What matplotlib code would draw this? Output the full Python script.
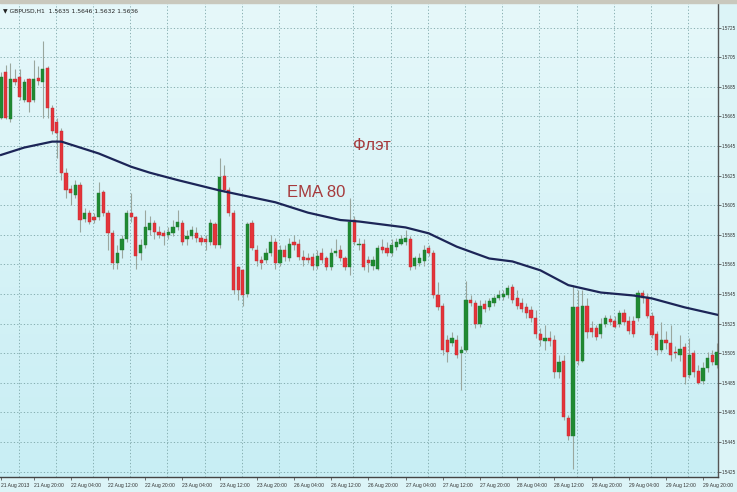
import numpy as np
import matplotlib.pyplot as plt
from matplotlib.colors import LinearSegmentedColormap

# GBPUSD H1 candles
opens = [
    1.5664, 1.5695, 1.5663, 1.5690, 1.5692, 1.5676, 1.5690, 1.5676, 1.5691, 1.5688,
    1.5698, 1.5671, 1.5661, 1.5655, 1.5627, 1.5616, 1.5612, 1.5619, 1.5596, 1.5600,
    1.5597, 1.5597, 1.5614, 1.5600, 1.5586, 1.5566, 1.5575, 1.5582, 1.5600, 1.5597,
    1.5573, 1.5578, 1.5588, 1.5593, 1.5587, 1.5586, 1.5585, 1.5586, 1.5590, 1.5593,
    1.5582, 1.5584, 1.5586, 1.5583, 1.5582, 1.5580, 1.5592, 1.5578, 1.5625, 1.5615,
    1.5600, 1.5563, 1.5561, 1.5545, 1.5593, 1.5575, 1.5568, 1.5568, 1.5573, 1.5580,
    1.5566, 1.5575, 1.5569, 1.5580, 1.5579, 1.5570, 1.5569, 1.5570, 1.5564, 1.5573,
    1.5569, 1.5563, 1.5573, 1.5575, 1.5569, 1.5563, 1.5595, 1.5578, 1.5579, 1.5568,
    1.5564, 1.5562, 1.5577, 1.5576, 1.5573, 1.5577, 1.5579, 1.5580, 1.5582, 1.5564,
    1.5566, 1.5567, 1.5576, 1.5573, 1.5544, 1.5537, 1.5514, 1.5512, 1.5514, 1.5505,
    1.5507, 1.5541, 1.5539, 1.5525, 1.5538, 1.5536, 1.5539, 1.5542, 1.5543, 1.5544,
    1.5550, 1.5542, 1.5539, 1.5536, 1.5534, 1.5529, 1.5518, 1.5513, 1.5515, 1.5514,
    1.5492, 1.5500, 1.5461, 1.5449, 1.5536, 1.5500, 1.5537, 1.5522, 1.5522, 1.5518,
    1.5525, 1.5528, 1.5527, 1.5525, 1.5532, 1.5527, 1.5527, 1.5529, 1.5546, 1.5543,
    1.5530, 1.5518, 1.5507, 1.5514, 1.5512, 1.5506, 1.5504, 1.5509, 1.5490, 1.5505,
    1.5493, 1.5486, 1.5495, 1.5504, 1.5497,
]
highs = [
    1.5695, 1.5700, 1.5701, 1.5697, 1.5697, 1.5690, 1.5691, 1.5703, 1.5699, 1.5716,
    1.5699, 1.5673, 1.5664, 1.5657, 1.5630, 1.5619, 1.5622, 1.5621, 1.5603, 1.5602,
    1.5600, 1.5621, 1.5615, 1.5602, 1.5588, 1.5578, 1.5585, 1.5602, 1.5613, 1.5598,
    1.5582, 1.5602, 1.5598, 1.5595, 1.5591, 1.5588, 1.5590, 1.5595, 1.5602, 1.5595,
    1.5588, 1.5591, 1.5590, 1.5585, 1.5585, 1.5596, 1.5594, 1.5637, 1.5632, 1.5617,
    1.5602, 1.5564, 1.5562, 1.5594, 1.5595, 1.5578, 1.5571, 1.5576, 1.5585, 1.5583,
    1.5578, 1.5578, 1.5583, 1.5585, 1.5582, 1.5575, 1.5573, 1.5573, 1.5575, 1.5576,
    1.5571, 1.5576, 1.5582, 1.5578, 1.5571, 1.5610, 1.5598, 1.5583, 1.5582, 1.5571,
    1.5571, 1.5578, 1.5582, 1.5580, 1.5582, 1.5583, 1.5585, 1.5588, 1.5584, 1.5571,
    1.5573, 1.5578, 1.5578, 1.5575, 1.5553, 1.5539, 1.5517, 1.5519, 1.5517, 1.5510,
    1.5554, 1.5544, 1.5541, 1.5541, 1.5541, 1.5542, 1.5544, 1.5548, 1.5548, 1.5551,
    1.5552, 1.5548, 1.5542, 1.5539, 1.5537, 1.5534, 1.5522, 1.5524, 1.5520, 1.5517,
    1.5504, 1.5504, 1.5463, 1.5551, 1.5548, 1.5548, 1.5542, 1.5527, 1.5524, 1.5529,
    1.5531, 1.5531, 1.5530, 1.5534, 1.5535, 1.5530, 1.5530, 1.5548, 1.5548, 1.5546,
    1.5533, 1.5520, 1.5526, 1.5520, 1.5524, 1.5510, 1.5517, 1.5512, 1.5515, 1.5507,
    1.5497, 1.5499, 1.5506, 1.5507, 1.5512,
]
lows = [
    1.5663, 1.5663, 1.5661, 1.5686, 1.5676, 1.5675, 1.5668, 1.5675, 1.5686, 1.5664,
    1.5664, 1.5653, 1.5637, 1.5622, 1.5610, 1.5605, 1.5610, 1.5587, 1.5594, 1.5592,
    1.5593, 1.5595, 1.5598, 1.5575, 1.5562, 1.5562, 1.5569, 1.5580, 1.5594, 1.5562,
    1.5568, 1.5576, 1.5585, 1.5582, 1.5583, 1.5578, 1.5582, 1.5584, 1.5588, 1.5578,
    1.5578, 1.5582, 1.5580, 1.5578, 1.5575, 1.5578, 1.5576, 1.5576, 1.5614, 1.5598,
    1.5545, 1.5541, 1.5537, 1.5543, 1.5575, 1.5564, 1.5562, 1.5566, 1.5571, 1.5562,
    1.5564, 1.5567, 1.5567, 1.5575, 1.5568, 1.5564, 1.5566, 1.5561, 1.5562, 1.5566,
    1.5561, 1.5561, 1.5571, 1.5567, 1.5561, 1.5558, 1.5578, 1.5575, 1.5561, 1.5560,
    1.5561, 1.5561, 1.5573, 1.5571, 1.5571, 1.5575, 1.5578, 1.5578, 1.5561, 1.5562,
    1.5564, 1.5564, 1.5571, 1.5542, 1.5534, 1.5504, 1.5499, 1.5510, 1.5502, 1.5480,
    1.5506, 1.5537, 1.5522, 1.5523, 1.5533, 1.5534, 1.5537, 1.5541, 1.5541, 1.5542,
    1.5539, 1.5535, 1.5533, 1.5529, 1.5526, 1.5515, 1.5510, 1.5507, 1.5510, 1.5488,
    1.5488, 1.5460, 1.5446, 1.5427, 1.5497, 1.5499, 1.5515, 1.5516, 1.5514, 1.5515,
    1.5523, 1.5524, 1.5522, 1.5523, 1.5524, 1.5518, 1.5516, 1.5527, 1.5539, 1.5529,
    1.5515, 1.5504, 1.5506, 1.5508, 1.5500, 1.5502, 1.5500, 1.5484, 1.5488, 1.5489,
    1.5484, 1.5484, 1.5492, 1.5497, 1.5495,
]
closes = [
    1.5692, 1.5664, 1.5690, 1.5688, 1.5678, 1.5688, 1.5675, 1.5690, 1.5689, 1.5697,
    1.5671, 1.5655, 1.5654, 1.5627, 1.5615, 1.5613, 1.5619, 1.5595, 1.5600, 1.5594,
    1.5595, 1.5613, 1.5600, 1.5586, 1.5566, 1.5573, 1.5582, 1.5600, 1.5597, 1.5571,
    1.5578, 1.5590, 1.5593, 1.5587, 1.5585, 1.5584, 1.5587, 1.5590, 1.5594, 1.5580,
    1.5584, 1.5588, 1.5583, 1.5580, 1.5580, 1.5593, 1.5578, 1.5624, 1.5615, 1.5600,
    1.5548, 1.5548, 1.5544, 1.5592, 1.5576, 1.5567, 1.5566, 1.5573, 1.5580, 1.5566,
    1.5575, 1.5570, 1.5579, 1.5578, 1.5570, 1.5568, 1.5568, 1.5564, 1.5571, 1.5568,
    1.5563, 1.5573, 1.5574, 1.5569, 1.5563, 1.5594, 1.5580, 1.5579, 1.5563, 1.5566,
    1.5568, 1.5576, 1.5575, 1.5573, 1.5578, 1.5580, 1.5582, 1.5583, 1.5563, 1.5569,
    1.5569, 1.5575, 1.5573, 1.5544, 1.5536, 1.5507, 1.5506, 1.5515, 1.5504, 1.5507,
    1.5541, 1.5539, 1.5525, 1.5537, 1.5535, 1.5540, 1.5542, 1.5544, 1.5545, 1.5549,
    1.5541, 1.5537, 1.5535, 1.5532, 1.5529, 1.5518, 1.5514, 1.5515, 1.5513, 1.5492,
    1.5499, 1.5462, 1.5449, 1.5536, 1.5500, 1.5537, 1.5519, 1.5519, 1.5516, 1.5525,
    1.5529, 1.5526, 1.5523, 1.5532, 1.5526, 1.5520, 1.5518, 1.5546, 1.5542, 1.5530,
    1.5517, 1.5507, 1.5514, 1.5512, 1.5504, 1.5505, 1.5508, 1.5489, 1.5504, 1.5492,
    1.5485, 1.5495, 1.5502, 1.5499, 1.5506,
]

# EMA 80 line, read at a few bars
ema_bars = [0, 5, 11, 13, 17, 21, 28, 32, 38, 47, 59, 66, 73, 77, 87, 92,
            98, 105, 110, 116, 122, 129, 136, 140, 147, 154]
ema_vals = [1.5639, 1.5644, 1.5648, 1.5648, 1.5644, 1.5640, 1.5631, 1.5627,
            1.5622, 1.5615, 1.5607, 1.5600, 1.5595, 1.5594, 1.5590, 1.5586,
            1.5577, 1.5569, 1.5567, 1.5561, 1.5551, 1.5546, 1.5544, 1.5542,
            1.5536, 1.5531]

price_ticks = [1.5425, 1.5445, 1.5465, 1.5485, 1.5505, 1.5525, 1.5545, 1.5565,
               1.5585, 1.5605, 1.5625, 1.5645, 1.5665, 1.5685, 1.5705, 1.5725]
time_labels = ['21 Aug 2013', '21 Aug 20:00', '22 Aug 04:00', '22 Aug 12:00',
               '22 Aug 20:00', '23 Aug 04:00', '23 Aug 12:00', '23 Aug 20:00',
               '26 Aug 04:00', '26 Aug 12:00', '26 Aug 20:00', '27 Aug 04:00',
               '27 Aug 12:00', '27 Aug 20:00', '28 Aug 04:00', '28 Aug 12:00',
               '28 Aug 20:00', '29 Aug 04:00', '29 Aug 12:00', '29 Aug 20:00']
header = 'GBPUSD,H1  1.5635 1.5646 1.5632 1.5636'

plt.rcParams['font.family'] = ['Liberation Sans', 'DejaVu Sans']

fig = plt.figure(figsize=(7.37, 4.92), dpi=100)
fig.patch.set_facecolor('#dcf4f7')
ax = fig.add_axes([0.0, 15 / 492, 718 / 737, 474 / 492])

# light cyan gradient background
grad = np.linspace(0, 1, 256).reshape(-1, 1)
bg = LinearSegmentedColormap.from_list('bg', ['#e6f8fa', '#c8eef4'])
ax.imshow(grad, extent=[0, 1, 0, 1], transform=ax.transAxes, aspect='auto',
          cmap=bg, zorder=0)

o = np.array(opens)
h = np.array(highs)
l = np.array(lows)
c = np.array(closes)
idx = np.arange(len(o))
up = c >= o

ax.vlines(idx, l, h, color='#9aa79e', linewidth=0.8, zorder=2)
body_lo = np.minimum(o, c)
body_h = np.maximum(np.abs(c - o), 0.00008)
ax.bar(idx[up], body_h[up], bottom=body_lo[up], width=0.7,
       color='#1f8a32', edgecolor='#1f7a2e', linewidth=0.3, zorder=3)
ax.bar(idx[~up], body_h[~up], bottom=body_lo[~up], width=0.7,
       color='#e4343a', edgecolor='#c02a30', linewidth=0.3, zorder=3)

ax.plot(ema_bars, ema_vals, color='#1c2557', linewidth=1.6, zorder=4)

ax.text(67.7, 1.56133, 'EMA 80', color='#a63a3c', fontsize=12,
        ha='center', va='center', zorder=5)
ax.text(79.8, 1.56451, 'Флэт', color='#a63a3c', fontsize=12,
        ha='center', va='center', zorder=5)

ax.set_xlim(-0.22, 154.2)
ax.set_ylim(1.54213, 1.57417)

# grid
for p in price_ticks:
    ax.axhline(p, color='#7aa4a6', linewidth=0.6, linestyle=(0, (1.5, 2.5)), zorder=1)
for g in np.arange(3.8, 154, 8):
    ax.axvline(g, color='#7aa4a6', linewidth=0.6, linestyle=(0, (1.5, 2.5)), zorder=1)

ax.yaxis.tick_right()
ax.set_yticks(price_ticks)
ax.set_yticklabels([f'{p:.4f}' for p in price_ticks])
ax.tick_params(axis='y', direction='out', length=2, width=0.6, pad=0.4,
               labelsize=3.3, labelcolor='#333333', color='#555555')

xt = [0] + [8 * k - 1 for k in range(1, len(time_labels))]
ax.set_xticks(xt)
ax.set_xticklabels(time_labels, ha='left')
ax.tick_params(axis='x', direction='out', length=2, width=0.6, pad=2,
               labelsize=3.6, labelcolor='#333333', color='#555555')

for side in ['left', 'top']:
    ax.spines[side].set_visible(False)
ax.spines['right'].set_color('#555555')
ax.spines['bottom'].set_color('#444444')
ax.spines['right'].set_linewidth(1.0)
ax.spines['bottom'].set_linewidth(1.0)

# window border and header line
fig.add_artist(plt.Rectangle((0, 1 - 3 / 492), 1, 3 / 492, transform=fig.transFigure,
                             color='#c9c8bd', zorder=10))
fig.text(3 / 737, 1 - 11 / 492, '\u25bc ' + header, fontsize=4.3, color='#222222',
         va='center', ha='left', family=['DejaVu Sans'])

fig.savefig('out.png', dpi=100)
